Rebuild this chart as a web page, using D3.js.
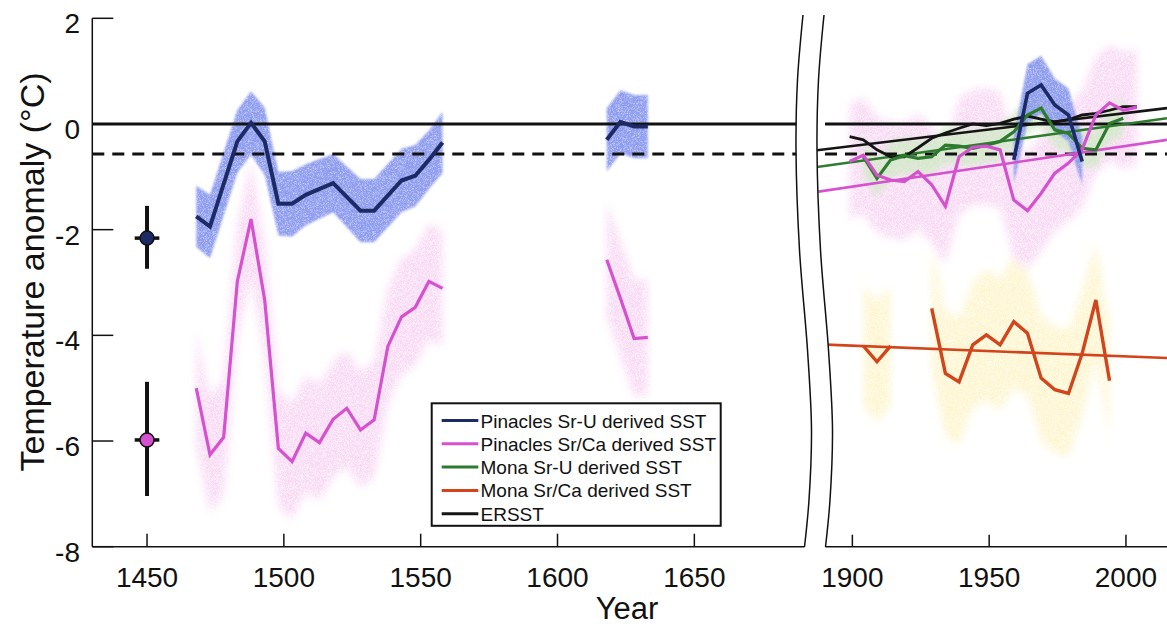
<!DOCTYPE html>
<html>
<head>
<meta charset="utf-8">
<script src="https://cdn.jsdelivr.net/npm/d3@7"></script>
<style>
  html, body { margin: 0; padding: 0; background: #fff; }
  svg { display: block; font-family: "Liberation Sans", Arial, Helvetica, sans-serif; }
</style>
</head>
<body>
<svg id="chart" width="1167" height="628"></svg>
<script>
// ---------------- data ----------------
const yTicks = [2, 0, -2, -4, -6, -8];
const leftYearTicks = [1450, 1500, 1550, 1600, 1650];
const rightYearTicks = [1900, 1950, 2000];

// Pinacles Sr-U derived SST (anomaly, degC) and 1-sigma band half-width
const pinSrUYearsA = [1468, 1473, 1483, 1488, 1493, 1498, 1503, 1508, 1518, 1528, 1533, 1543, 1548, 1553, 1558];
const pinSrUValuesA = [-1.75, -1.94, -0.33, 0.02, -0.33, -1.51, -1.51, -1.34, -1.12, -1.64, -1.64, -1.07, -0.98, -0.68, -0.35];
const pinSrUErrA = [0.58, 0.6, 0.6, 0.6, 0.64, 0.6, 0.62, 0.58, 0.55, 0.6, 0.6, 0.6, 0.58, 0.55, 0.58];
const pinSrUYearsB = [1618, 1623, 1628, 1633];
const pinSrUValuesB = [-0.30, 0.04, -0.05, -0.05];
const pinSrUErrB = [0.6, 0.6, 0.6, 0.6];
const pinSrUYearsC = [1959, 1964, 1969, 1974, 1979, 1984];
const pinSrUValuesC = [-0.68, 0.58, 0.74, 0.36, 0.17, -0.71];
const pinSrUErrC = [0.45, 0.55, 0.55, 0.5, 0.5, 0.45];

// Pinacles Sr/Ca derived SST
const pinSrCaYearsA = [1468, 1473, 1478, 1483, 1488, 1493, 1498, 1503, 1508, 1513, 1518, 1523, 1528, 1533, 1538, 1543, 1548, 1553, 1558];
const pinSrCaValuesA = [-5.00, -6.26, -5.93, -2.98, -1.80, -3.33, -6.14, -6.39, -5.85, -6.03, -5.59, -5.38, -5.79, -5.60, -4.21, -3.65, -3.47, -2.98, -3.11];
const pinSrCaErrA = [1.1, 1.1, 1.1, 1.1, 1.1, 1.1, 1.1, 1.1, 1.1, 1.1, 1.1, 1.1, 1.1, 1.1, 1.1, 1.1, 1.1, 1.1, 1.1];
const pinSrCaYearsB = [1618, 1623, 1628, 1633];
const pinSrCaValuesB = [-2.57, -3.30, -4.06, -4.04];
const pinSrCaErrB = [1.1, 1.1, 1.1, 1.1];
const pinSrCaYearsC = [1899, 1904, 1909, 1914, 1919, 1924, 1929, 1934, 1939, 1944, 1949, 1954, 1959, 1964, 1969, 1974, 1979, 1984, 1989, 1994, 1999, 2004];
const pinSrCaValuesC = [-0.71, -0.59, -0.97, -1.06, -1.09, -0.90, -1.15, -1.56, -0.62, -0.44, -0.42, -0.49, -1.44, -1.64, -1.31, -0.93, -0.74, -0.48, 0.17, 0.40, 0.26, 0.32];
const pinSrCaErrC = [1.1, 1.1, 1.1, 1.1, 1.1, 1.1, 1.1, 1.1, 1.1, 1.1, 1.1, 1.1, 1.1, 1.1, 1.1, 1.1, 1.1, 1.1, 1.1, 1.1, 1.1, 1.1];

// Mona Sr-U derived SST
const monaSrUYears = [1904, 1909, 1914, 1919, 1924, 1929, 1934, 1939, 1944, 1949, 1954, 1959, 1964, 1969, 1974, 1979, 1984, 1989, 1994, 1999];
const monaSrUValues = [-0.62, -1.03, -0.68, -0.60, -0.65, -0.62, -0.40, -0.42, -0.46, -0.40, -0.33, -0.15, 0.17, 0.30, -0.11, -0.18, -0.46, -0.49, 0.01, 0.11];
const monaSrUErr = [0.35, 0.35, 0.35, 0.35, 0.35, 0.35, 0.35, 0.35, 0.35, 0.35, 0.35, 0.35, 0.35, 0.35, 0.35, 0.35, 0.35, 0.35, 0.35, 0.35];

// Mona Sr/Ca derived SST (two segments)
const monaSrCaYearsA = [1904, 1909, 1914];
const monaSrCaValuesA = [-4.20, -4.50, -4.20];
const monaSrCaErrA = [1.15, 1.15, 1.15];
const monaSrCaYearsB = [1929, 1934, 1939, 1944, 1949, 1954, 1959, 1964, 1969, 1974, 1979, 1984, 1989, 1994];
const monaSrCaValuesB = [-3.49, -4.72, -4.88, -4.18, -3.99, -4.18, -3.74, -3.96, -4.81, -5.03, -5.10, -4.34, -3.33, -4.86];
const monaSrCaErrB = [1.2, 1.2, 1.2, 1.2, 1.25, 1.25, 1.25, 1.2, 1.2, 1.2, 1.2, 1.2, 1.1, 1.1];

// ERSST
const ersstYears = [1899, 1904, 1909, 1914, 1919, 1924, 1929, 1934, 1939, 1944, 1949, 1954, 1959, 1964, 1969, 1974, 1979, 1984, 1989, 1994, 1999, 2004];
const ersstValues = [-0.24, -0.30, -0.49, -0.62, -0.62, -0.45, -0.27, -0.17, -0.08, 0.00, -0.03, 0.01, 0.09, 0.15, 0.09, 0.04, 0.08, 0.17, 0.20, 0.26, 0.33, 0.33];

// linear trends over the modern period: [start year, end year] and values at those years
const trendYears = [1885, 2015];
const ersstTrend = [-0.51, 0.30];
const monaSrUTrend = [-0.83, 0.11];
const pinSrCaTrend = [-1.30, -0.30];
const monaSrCaTrend = [-4.165, -4.43];

// modern-period reference levels
const zeroLevel = 0;
const dashedLevel = -0.57;

// single-point estimates plotted at 1450 with error bars
const pointYear = 1450;
const pointValues = [-2.16, -5.98];
const pointLow = [-2.74, -7.04];
const pointHigh = [-1.55, -4.88];
const pointHalfWidthYears = 4.5;

const legendLabels = [
  "Pinacles Sr-U derived SST",
  "Pinacles Sr/Ca derived SST",
  "Mona Sr-U derived SST",
  "Mona Sr/Ca derived SST",
  "ERSST"
];

// ---------------- layout ----------------
const svg = d3.select("#chart");
const colors = {
  pinSrU: "#1c2a66",
  pinSrCa: "#d651cf",
  monaSrU: "#2d7b2f",
  monaSrCa: "#d2441b",
  ersst: "#141414"
};
const bandColors = {
  pinSrU: "#8e9cef",
  pinSrCa: "#f7d5f3",
  monaSrU: "#d2eac8",
  monaSrCa: "#fdf4c9"
};

const y = d3.scaleLinear().domain([-8, 2]).range([546.7, 18.3]);
const xL = d3.scaleLinear().domain([1430, 1690]).range([92.3, 803.8]);
const xR = d3.scaleLinear().domain([1890, 2015]).range([825, 1167]);

// axis-break squiggle (left edge of the gap); the right edge is offset
const breakLeft = [[803, 15], [797.5, 80], [796, 150], [799.5, 250], [807.5, 350], [811.5, 430], [809, 500], [804.5, 547]];
const breakGap = 21;
const breakRight = breakLeft.map(([bx, by]) => [bx + breakGap, by]);
const curveGen = d3.line().curve(d3.curveCatmullRom.alpha(0.5));

const defs = svg.append("defs");

// clip regions for the two panels
function clipPoly(id, pts) {
  defs.append("clipPath").attr("id", id)
    .append("path").attr("d", d3.line()(pts) + "Z");
}
clipPoly("clipL", [[0, 0], [breakLeft[0][0], 0], ...breakLeft, [breakLeft[breakLeft.length - 1][0], 628], [0, 628]]);
clipPoly("clipR", [[1167, 0], [breakRight[0][0], 0], ...breakRight, [breakRight[breakRight.length - 1][0], 628], [1167, 628]]);

// fine speckled texture for the uncertainty envelopes
function grainFilter(id, blur, seed, k, b) {
  const f = defs.append("filter").attr("id", id)
    .attr("x", "-10%").attr("y", "-10%").attr("width", "120%").attr("height", "120%");
  f.append("feGaussianBlur").attr("in", "SourceGraphic").attr("stdDeviation", blur).attr("result", "soft");
  f.append("feTurbulence").attr("type", "fractalNoise").attr("baseFrequency", 1.6)
    .attr("numOctaves", 1).attr("seed", seed).attr("result", "noise");
  f.append("feColorMatrix").attr("in", "noise").attr("type", "matrix")
    .attr("values", `0 0 0 0 1  0 0 0 0 1  0 0 0 0 1  0 0 0 ${k} ${b}`).attr("result", "speck");
  f.append("feComposite").attr("in", "soft").attr("in2", "speck").attr("operator", "in");
}
grainFilter("grainBlue", 0.8, 4, -1.6, 1.7);
grainFilter("grainPink", 4, 9, -1.8, 1.6);
grainFilter("grainGreen", 3, 13, -1.6, 1.6);
grainFilter("grainYellow", 4, 21, -1.8, 1.6);

const zip = (ys, vs, es) => ys.map((yr, i) => ({ year: yr, value: vs[i], err: es ? es[i] : 0 }));

const left = svg.append("g").attr("clip-path", "url(#clipL)");
const right = svg.append("g").attr("clip-path", "url(#clipR)");

function band(g, xs, data, color, filter) {
  const area = d3.area()
    .x(d => xs(d.year))
    .y0(d => y(d.value - d.err))
    .y1(d => y(d.value + d.err));
  g.append("path").datum(data)
    .attr("d", area)
    .attr("fill", color)
    .attr("filter", `url(#${filter})`);
}
function series(g, xs, data, color, width) {
  const line = d3.line().x(d => xs(d.year)).y(d => y(d.value));
  g.append("path").datum(data)
    .attr("d", line)
    .attr("fill", "none")
    .attr("stroke", color)
    .attr("stroke-width", width)
    .attr("stroke-linejoin", "miter")
    .attr("stroke-linecap", "butt");
}

// ---- envelopes ----
const pinSrCaA = zip(pinSrCaYearsA, pinSrCaValuesA, pinSrCaErrA);
const pinSrCaB = zip(pinSrCaYearsB, pinSrCaValuesB, pinSrCaErrB);
const pinSrCaC = zip(pinSrCaYearsC, pinSrCaValuesC, pinSrCaErrC);
const pinSrUA = zip(pinSrUYearsA, pinSrUValuesA, pinSrUErrA);
const pinSrUB = zip(pinSrUYearsB, pinSrUValuesB, pinSrUErrB);
const pinSrUC = zip(pinSrUYearsC, pinSrUValuesC, pinSrUErrC);
const monaSrU = zip(monaSrUYears, monaSrUValues, monaSrUErr);
const monaSrCaA = zip(monaSrCaYearsA, monaSrCaValuesA, monaSrCaErrA);
const monaSrCaB = zip(monaSrCaYearsB, monaSrCaValuesB, monaSrCaErrB);
const ersst = zip(ersstYears, ersstValues);

band(left, xL, pinSrCaA, bandColors.pinSrCa, "grainPink");
band(left, xL, pinSrCaB, bandColors.pinSrCa, "grainPink");
band(left, xL, pinSrUA, bandColors.pinSrU, "grainBlue");
band(left, xL, pinSrUB, bandColors.pinSrU, "grainBlue");

band(right, xR, monaSrCaA, bandColors.monaSrCa, "grainYellow");
band(right, xR, monaSrCaB, bandColors.monaSrCa, "grainYellow");
band(right, xR, pinSrCaC, bandColors.pinSrCa, "grainPink");
band(right, xR, monaSrU, bandColors.monaSrU, "grainGreen");
band(right, xR, pinSrUC, bandColors.pinSrU, "grainBlue");

// ---- reference levels (solid zero line, dashed level) ----
[[left, xL], [right, xR]].forEach(([g, xs]) => {
  const [d0, d1] = xs.domain();
  g.append("line")
    .attr("x1", xs(d0)).attr("x2", xs(d1))
    .attr("y1", y(zeroLevel)).attr("y2", y(zeroLevel))
    .attr("stroke", "#111").attr("stroke-width", 3);
  g.append("line")
    .attr("x1", xs(d0)).attr("x2", xs(d1))
    .attr("y1", y(dashedLevel)).attr("y2", y(dashedLevel))
    .attr("stroke", "#111").attr("stroke-width", 3)
    .attr("stroke-dasharray", "12,8");
});

// ---- trend lines ----
function trend(vals, color, width) {
  const data = trendYears.map((yr, i) => ({ year: yr, value: vals[i] }));
  series(right, xR, data, color, width);
}
trend(pinSrCaTrend, colors.pinSrCa, 2.6);
trend(monaSrUTrend, colors.monaSrU, 2.6);
trend(ersstTrend, colors.ersst, 2.6);
trend(monaSrCaTrend, colors.monaSrCa, 2.6);

// ---- series lines ----
series(left, xL, pinSrCaA, colors.pinSrCa, 3.2);
series(left, xL, pinSrCaB, colors.pinSrCa, 3.2);
series(left, xL, pinSrUA, colors.pinSrU, 4);
series(left, xL, pinSrUB, colors.pinSrU, 4);

series(right, xR, ersst, colors.ersst, 2.8);
series(right, xR, monaSrCaA, colors.monaSrCa, 3.4);
series(right, xR, monaSrCaB, colors.monaSrCa, 3.4);
series(right, xR, monaSrU, colors.monaSrU, 3.2);
series(right, xR, pinSrCaC, colors.pinSrCa, 3.2);
series(right, xR, pinSrUC, colors.pinSrU, 3.6);

// ---- single-point estimates with error bars ----
const pts = pointValues.map((v, i) => ({ value: v, low: pointLow[i], high: pointHigh[i] }));
const ptFill = [colors.pinSrU, colors.pinSrCa];
const pg = svg.append("g");
pts.forEach((p, i) => {
  const cx = xL(pointYear);
  pg.append("line").attr("x1", cx).attr("x2", cx)
    .attr("y1", y(p.high)).attr("y2", y(p.low))
    .attr("stroke", "#111").attr("stroke-width", 4);
  pg.append("line")
    .attr("x1", xL(pointYear - pointHalfWidthYears)).attr("x2", xL(pointYear + pointHalfWidthYears))
    .attr("y1", y(p.value)).attr("y2", y(p.value))
    .attr("stroke", "#111").attr("stroke-width", 3.5);
  pg.append("circle").attr("cx", cx).attr("cy", y(p.value)).attr("r", 7)
    .attr("fill", ptFill[i]).attr("stroke", "#111").attr("stroke-width", 1.5);
});

// ---- axes ----
const axisG = svg.append("g").attr("stroke", "#111").attr("stroke-width", 1.5).attr("fill", "none");
axisG.append("line").attr("x1", xL(1430)).attr("x2", xL(1430)).attr("y1", y(2)).attr("y2", y(-8));
axisG.append("line").attr("x1", xL(1430)).attr("x2", breakLeft[breakLeft.length - 1][0]).attr("y1", y(-8)).attr("y2", y(-8));
axisG.append("line").attr("x1", breakRight[breakRight.length - 1][0]).attr("x2", xR(2015)).attr("y1", y(-8)).attr("y2", y(-8));
axisG.append("path").attr("d", curveGen(breakLeft));
axisG.append("path").attr("d", curveGen(breakRight));

yTicks.forEach(t => {
  axisG.append("line").attr("x1", xL(1430)).attr("x2", xL(1430) + 21).attr("y1", y(t)).attr("y2", y(t));
});
leftYearTicks.forEach(t => {
  axisG.append("line").attr("x1", xL(t)).attr("x2", xL(t)).attr("y1", y(-8)).attr("y2", y(-8) - 13);
});
rightYearTicks.forEach(t => {
  axisG.append("line").attr("x1", xR(t)).attr("x2", xR(t)).attr("y1", y(-8)).attr("y2", y(-8) - 12);
});

const textG = svg.append("g").attr("fill", "#111");
yTicks.forEach(t => {
  textG.append("text").attr("x", 80).attr("y", y(t) + 15)
    .attr("text-anchor", "end").attr("font-size", 28).text(t);
});
leftYearTicks.forEach(t => {
  textG.append("text").attr("x", xL(t)).attr("y", 587)
    .attr("text-anchor", "middle").attr("font-size", 28).text(t);
});
rightYearTicks.forEach(t => {
  textG.append("text").attr("x", xR(t)).attr("y", 587)
    .attr("text-anchor", "middle").attr("font-size", 28).text(t);
});
textG.append("text").attr("x", 627).attr("y", 619)
  .attr("text-anchor", "middle").attr("font-size", 31).text("Year");
textG.append("text")
  .attr("transform", "translate(44,272) rotate(-90)")
  .attr("text-anchor", "middle").attr("font-size", 34)
  .text("Temperature anomaly (\u00B0C)");

// ---- legend ----
const legendColors = [colors.pinSrU, colors.pinSrCa, colors.monaSrU, colors.monaSrCa, colors.ersst];
const lg = svg.append("g");
lg.append("rect").attr("x", 431.7).attr("y", 403.3).attr("width", 289).attr("height", 122.5)
  .attr("fill", "#fff").attr("stroke", "#111").attr("stroke-width", 2);
legendLabels.forEach((lab, i) => {
  const ly = 420.5 + i * 23.3;
  lg.append("line").attr("x1", 441.7).attr("x2", 478.3).attr("y1", ly).attr("y2", ly)
    .attr("stroke", legendColors[i]).attr("stroke-width", 3);
  lg.append("text").attr("x", 480.5).attr("y", ly + 7).attr("font-size", 19)
    .attr("fill", "#111").text(lab);
});
</script>
</body>
</html>
